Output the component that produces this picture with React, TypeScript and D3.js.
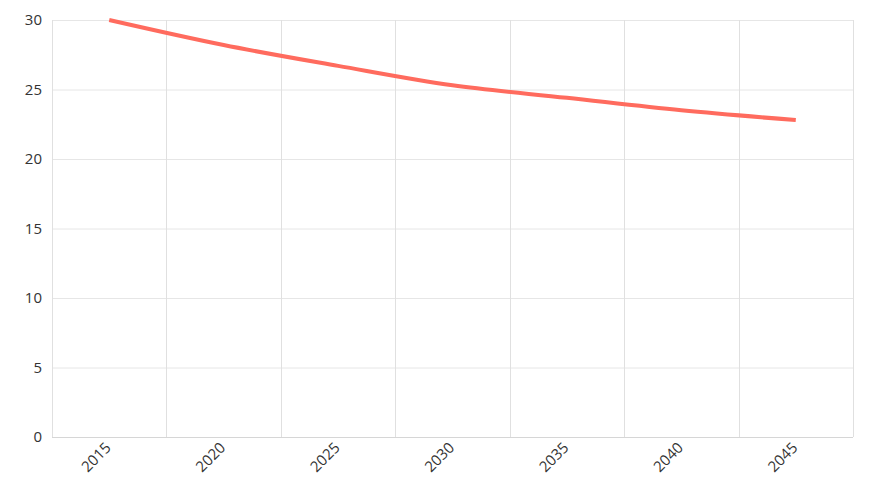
import React, { useEffect, useRef } from "react";
import * as d3 from "d3";

const years = ["2015", "2020", "2025", "2030", "2035", "2040", "2045"];
const values = [30.0, 28.2, 26.7, 25.3, 24.4, 23.5, 22.8];
const yTicks = [0, 5, 10, 15, 20, 25, 30];

const W = 873;
const H = 500;
const margin = { left: 52, right: 20, top: 20, bottom: 63 };

export default function App() {
  const ref = useRef<SVGSVGElement | null>(null);

  useEffect(() => {
    const svg = d3.select(ref.current);
    svg.selectAll("*").remove();
    const x = d3
      .scaleBand<string>()
      .domain(years)
      .range([margin.left, W - margin.right])
      .padding(0);
    const y = d3
      .scaleLinear()
      .domain([0, 30])
      .range([H - margin.bottom, margin.top]);

    const font = "'Open Sans', 'Noto Sans', sans-serif";

    svg
      .append("g")
      .selectAll("line")
      .data(yTicks)
      .join("line")
      .attr("x1", margin.left)
      .attr("x2", W - margin.right)
      .attr("y1", (d) => y(d) + 0.5)
      .attr("y2", (d) => y(d) + 0.5)
      .attr("stroke", (d) => (d === 0 ? "#d6d6d6" : "#e6e6e6"))
      .attr("stroke-width", 1);

    const bounds = years.map((d) => x(d) as number).concat([W - margin.right]);
    svg
      .append("g")
      .selectAll("line")
      .data(bounds)
      .join("line")
      .attr("x1", (d) => Math.round(d) + 0.5)
      .attr("x2", (d) => Math.round(d) + 0.5)
      .attr("y1", margin.top)
      .attr("y2", H - margin.bottom)
      .attr("stroke", "#e0e0e0")
      .attr("stroke-width", 1);

    svg
      .append("g")
      .selectAll("text")
      .data(yTicks)
      .join("text")
      .attr("x", margin.left - 10)
      .attr("y", (d) => y(d))
      .attr("dy", "0.35em")
      .attr("text-anchor", "end")
      .attr("font-family", font)
      .attr("font-size", 15)
      .attr("fill", "#333")
      .text((d) => String(d));

    svg
      .append("g")
      .selectAll("text")
      .data(years)
      .join("text")
      .attr("transform", (d) => {
        const cx = (x(d) as number) + x.bandwidth() / 2 - 1;
        const cy = H - margin.bottom + 8;
        return `translate(${cx},${cy}) rotate(-45)`;
      })
      .attr("text-anchor", "end")
      .attr("dy", "0.35em")
      .attr("font-family", font)
      .attr("font-size", 15)
      .attr("fill", "#333")
      .text((d) => d);

    const line = d3
      .line<number>()
      .x((_, i) => (x(years[i]) as number) + x.bandwidth() / 2)
      .y((d) => y(d))
      .curve(d3.curveMonotoneX);
    svg
      .append("path")
      .datum(values)
      .attr("d", line)
      .attr("fill", "none")
      .attr("stroke", "#ff6b5e")
      .attr("stroke-width", 4)
      .attr("stroke-linecap", "butt");
  }, []);

  return (
    <div style={{ position: "absolute", left: 0, top: 0 }}>
      <svg ref={ref} width={W} height={H} style={{ display: "block" }} />
    </div>
  );
}
